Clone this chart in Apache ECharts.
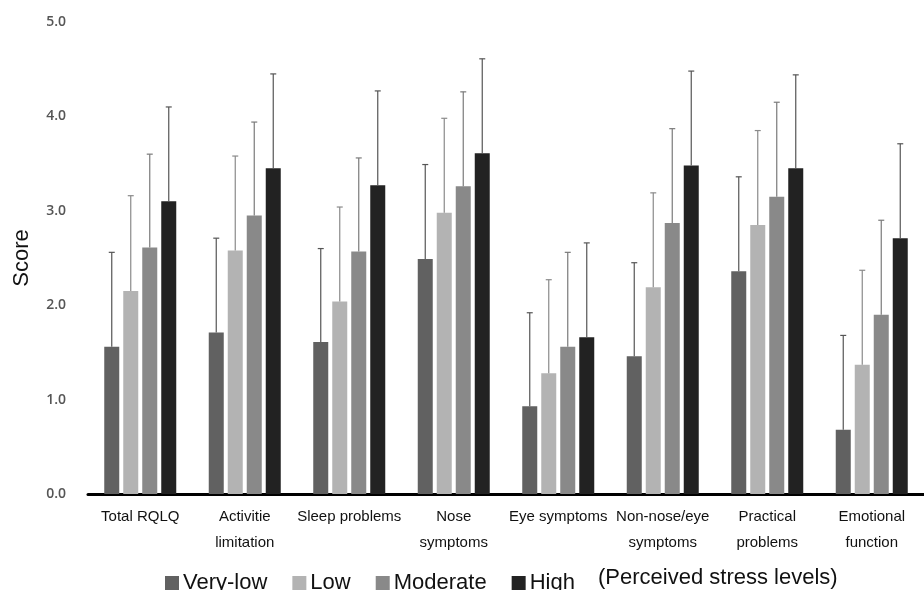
<!DOCTYPE html>
<html>
<head>
<meta charset="utf-8">
<script src="https://cdn.jsdelivr.net/npm/echarts@6/dist/echarts.min.js"></script>
<style>html,body{margin:0;padding:0;background:#fff}#c{width:924px;height:590px}</style>
</head>
<body>
<div id="c"></div>
<script>
const categories = ["Total RQLQ", "Activitie\nlimitation", "Sleep problems", "Nose\nsymptoms", "Eye symptoms", "Non-nose/eye\nsymptoms", "Practical\nproblems", "Emotional\nfunction"];
const seriesNames = ["Very-low", "Low", "Moderate", "High"];
const veryLow = [1.56, 1.71, 1.61, 2.49, 0.93, 1.46, 2.36, 0.68];
const low = [2.15, 2.58, 2.04, 2.98, 1.28, 2.19, 2.85, 1.37];
const moderate = [2.61, 2.95, 2.57, 3.26, 1.56, 2.87, 3.15, 1.90];
const high = [3.10, 3.45, 3.27, 3.61, 1.66, 3.48, 3.45, 2.71];
const sdVeryLow = [1.00, 1.00, 0.99, 1.00, 0.99, 0.99, 1.00, 1.00];
const sdLow = [1.01, 1.00, 1.00, 1.00, 0.99, 1.00, 1.00, 1.00];
const sdModerate = [0.99, 0.99, 0.99, 1.00, 1.00, 1.00, 1.00, 1.00];
const sdHigh = [1.00, 1.00, 1.00, 1.00, 1.00, 1.00, 0.99, 1.00];
const yTicks = [0, 1, 2, 3, 4, 5];

const values = [veryLow, low, moderate, high];
const sds = [sdVeryLow, sdLow, sdModerate, sdHigh];
const colors = ["#616161", "#b3b3b3", "#898989", "#222222"];
const errColors = ["#555555", "#8a8a8a", "#7a7a7a", "#555555"];
const BAR_W = 15, GAP = 4;

const chart = echarts.init(document.getElementById('c'));
const series = [];
values.forEach((vals, i) => {
  series.push({
    name: seriesNames[i], type: 'bar', data: vals,
    barWidth: BAR_W, barGap: (GAP / BAR_W * 100) + '%',
    itemStyle: { color: colors[i] }, z: 2
  });
});
values.forEach((vals, i) => {
  series.push({
    type: 'custom', silent: true, z: 3,
    data: vals.map((v, k) => [k, v, sds[i][k]]),
    renderItem: function (params, api) {
      const n = values.length;
      const offset = (i - (n - 1) / 2) * (BAR_W + GAP);
      const base = api.coord([api.value(0), api.value(1)]);
      const top = api.coord([api.value(0), api.value(1) + api.value(2)]);
      const x = base[0] + offset;
      const cap = 3;
      const st = { stroke: errColors[i], lineWidth: 1.2 };
      return {
        type: 'group', children: [
          { type: 'line', shape: { x1: x, y1: base[1], x2: x, y2: top[1] }, style: st },
          { type: 'line', shape: { x1: x - cap, y1: top[1], x2: x + cap, y2: top[1] }, style: st }
        ]
      };
    }
  });
});

chart.setOption({
  animation: false,
  backgroundColor: '#fff',
  grid: { left: 88, right: -8, top: 22, bottom: 96 },
  legend: {
    data: seriesNames, left: 160, top: 567, itemWidth: 14, itemHeight: 14, itemGap: 25,
    icon: 'rect',
    textStyle: { fontFamily: 'Liberation Sans, Arial, sans-serif', fontSize: 22, color: '#111', padding: [0, 0, 0, -1] }
  },
  graphic: [{
    type: 'text', left: 598, top: 567,
    style: { text: '(Perceived stress levels)', font: '22px "Liberation Sans", Arial, sans-serif', fill: '#111' }
  }],
  xAxis: {
    type: 'category', data: categories,
    axisLine: { lineStyle: { color: '#000', width: 3 } },
    axisTick: { show: false },
    axisLabel: { interval: 0, color: '#111', fontFamily: 'Liberation Sans, Arial, sans-serif', fontSize: 15, lineHeight: 26, margin: 10, verticalAlign: 'top' }
  },
  yAxis: {
    type: 'value', min: 0, max: 5, interval: 1,
    name: 'Score', nameLocation: 'middle', nameGap: 55, nameRotate: 90,
    nameTextStyle: { fontFamily: 'Liberation Sans, Arial, sans-serif', fontSize: 22, color: '#111' },
    axisLine: { show: false }, axisTick: { show: false }, splitLine: { show: false },
    axisLabel: { color: '#555', fontFamily: 'Open Sans', fontWeight: 600, fontSize: 14, margin: 22, formatter: v => v.toFixed(1) }
  },
  series: series
});
</script>
</body>
</html>
